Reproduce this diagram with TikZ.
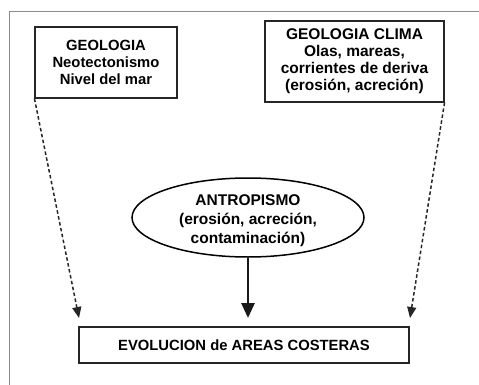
\documentclass[tikz,border=0pt]{standalone}
\usepackage{fontspec}
\setmainfont{Liberation Sans}
\usetikzlibrary{shapes.geometric,arrows.meta}
\tikzset{
  box/.style={draw=black!85, line width=1.1pt, rectangle, inner sep=0pt, align=center,
    font=\fontsize{14.8}{17}\selectfont\bfseries},
  oval/.style={draw=black, line width=1.5pt, ellipse, inner sep=0pt},
  ovaltext/.style={align=center, inner sep=0pt, font=\fontsize{15.5}{19}\selectfont\bfseries},
  dasharrow/.style={line width=1.5pt, black!85, dash pattern=on 3.5pt off 2.5pt,
    -{Triangle[length=11pt,width=9pt]}},
  mainarrow/.style={line width=2.8pt, black!90, -{Triangle[length=15pt,width=13pt]}},
  frame/.style={draw=black!45, line width=1pt}
}
\begin{document}
\begin{tikzpicture}[x=1pt,y=-1pt]
\useasboundingbox (0,0) rectangle (479,385);
\draw[frame] (9,385) -- (9,12) -- (479,12);
\node[box, minimum width=142pt, minimum height=71pt] (g1) at (106,62.5)
  {GEOLOGIA\\Neotectonismo\\Nivel del mar};
\node[box, minimum width=179pt, minimum height=81pt, font=\fontsize{15.5}{17}\selectfont\bfseries] (g2) at (354.5,61.5)
  {GEOLOGIA CLIMA\\Olas, mareas,\\corrientes de deriva\\(erosión, acreción)};
\node[oval, minimum width=232pt, minimum height=79pt] (ant) at (248,217.5) {};
\node[ovaltext] (antt) at (248,221)
  {ANTROPISMO\\(erosión, acreción,\\contaminación)};
\node[box, minimum width=330pt, minimum height=36pt] (evo) at (244,345)
  {EVOLUCION de AREAS COSTERAS};
\coordinate (t1) at (79,318);
\coordinate (t2) at (410,318);
\coordinate (t3) at (248,318);
\draw[dasharrow] (g1.south west) -- (t1);
\draw[dasharrow] (g2.south east) -- (t2);
\draw[mainarrow] (ant.south) -- (t3);
\end{tikzpicture}
\end{document}
